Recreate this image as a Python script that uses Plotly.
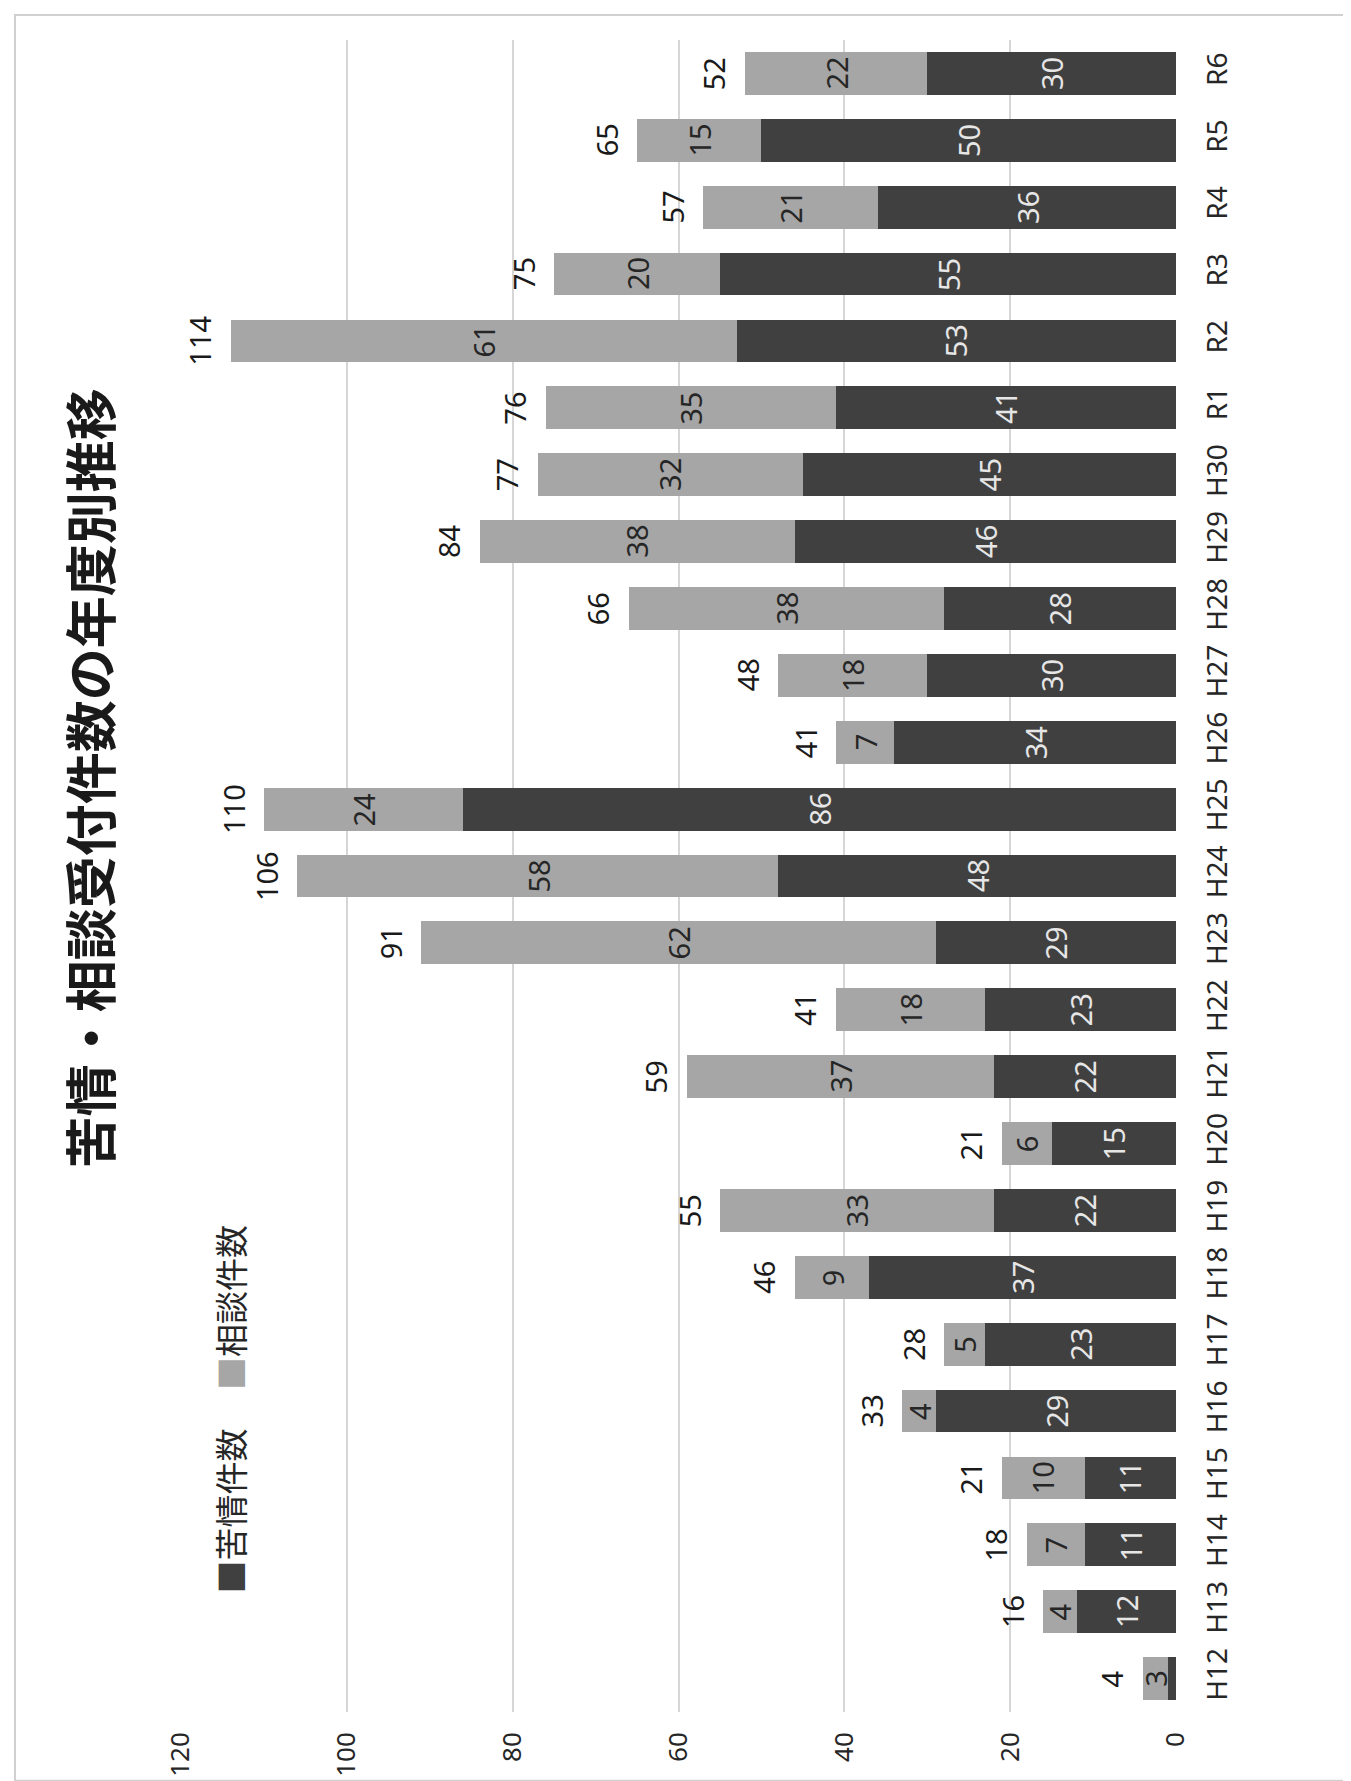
import plotly.graph_objects as go

years = ["H12", "H13", "H14", "H15", "H16", "H17", "H18", "H19", "H20", "H21",
         "H22", "H23", "H24", "H25", "H26", "H27", "H28", "H29", "H30", "R1",
         "R2", "R3", "R4", "R5", "R6"]
kujo = [1, 12, 11, 11, 29, 23, 37, 22, 15, 22, 23, 29, 48, 86, 34, 30, 28, 46, 45, 41, 53, 55, 36, 50, 30]
soudan = [3, 4, 7, 10, 4, 5, 9, 33, 6, 37, 18, 62, 58, 24, 7, 18, 38, 38, 32, 35, 61, 20, 21, 15, 22]
totals = [4, 16, 18, 21, 33, 28, 46, 55, 21, 59, 41, 91, 106, 110, 41, 48, 66, 84, 77, 76, 114, 75, 57, 65, 52]
xticks = [0, 20, 40, 60, 80, 100, 120]

DARK = "#404040"
LIGHT = "#a6a6a6"
FONT = "Noto Sans, Noto Sans CJK JP, sans-serif"
CJK = "Noto Sans CJK JP, sans-serif"

W, H = 1351, 1781
L, R, T, B = 173, 183, 32, 73

fig = go.Figure()
fig.add_trace(go.Bar(y=years, x=kujo, orientation="h", name="苦情件数",
                     marker=dict(color=DARK, line=dict(width=0))))
fig.add_trace(go.Bar(y=years, x=soudan, orientation="h", name="相談件数",
                     marker=dict(color=LIGHT, line=dict(width=0))))

ann = []
for yr, k, s, t in zip(years, kujo, soudan, totals):
    if k >= 2:
        ann.append(dict(x=k / 2, y=yr, xref="x", yref="y", text=str(k), showarrow=False,
                        textangle=-90, font=dict(family=FONT, size=29, color="#e6e6e6"),
                        xanchor="center", yanchor="middle"))
    if s >= 2:
        ann.append(dict(x=k + s / 2, y=yr, xref="x", yref="y", text=str(s), showarrow=False,
                        textangle=-90, font=dict(family=FONT, size=29, color="#262626"),
                        xanchor="center", yanchor="middle"))
    ann.append(dict(x=t, y=yr, xref="x", yref="y", text=str(t), showarrow=False,
                    textangle=-90, xshift=-31, font=dict(family=FONT, size=29, color="#1a1a1a"),
                    xanchor="center", yanchor="middle"))

pw = W - L - R
ph = H - T - B
def px(x):
    return (x - L) / pw
def py(y):
    return (H - B - y) / ph

# title
ann.append(dict(x=px(80), y=py(772), xref="paper", yref="paper",
                text="<b>苦情・相談受付件数の年度別推移</b>", showarrow=False, textangle=-90,
                font=dict(family=CJK, size=52, color="#1a1a1a"),
                xanchor="center", yanchor="middle"))
# legend
ann.append(dict(x=px(222), y=py(1507), xref="paper", yref="paper",
                text=f"<span style='color:{DARK}'>■</span>苦情件数", showarrow=False, textangle=-90,
                font=dict(family=CJK, size=33, color="#262626"),
                xanchor="center", yanchor="middle"))
ann.append(dict(x=px(222), y=py(1303), xref="paper", yref="paper",
                text=f"<span style='color:{LIGHT}'>■</span>相談件数", showarrow=False, textangle=-90,
                font=dict(family=CJK, size=33, color="#262626"),
                xanchor="center", yanchor="middle"))

shapes = [dict(type="rect", xref="paper", yref="paper",
               x0=px(7), x1=px(1337), y0=py(1777), y1=py(7),
               line=dict(color="#d0d0d0", width=2), fillcolor="rgba(0,0,0,0)", layer="below")]

fig.update_layout(
    width=W, height=H,
    margin=dict(l=L, r=R, t=T, b=B, pad=0),
    barmode="stack", bargap=0.36,
    showlegend=False,
    paper_bgcolor="white", plot_bgcolor="white",
    annotations=ann, shapes=shapes,
    xaxis=dict(range=[120, 0], autorange=False, tickvals=xticks, ticktext=[str(v) for v in xticks],
               tickangle=-90, showgrid=True, gridcolor="#d6d6d6", gridwidth=1.5,
               zeroline=False, showline=False, ticks="", ticklabelstandoff=14,
               tickfont=dict(family=FONT, size=26, color="#262626")),
    yaxis=dict(side="right", categoryorder="array", categoryarray=years,
               tickangle=-90, showgrid=False, zeroline=False, showline=False, ticks="",
               ticklabelstandoff=22,
               tickfont=dict(family=FONT, size=28, color="#262626")),
)

fig.write_html("out.html")
